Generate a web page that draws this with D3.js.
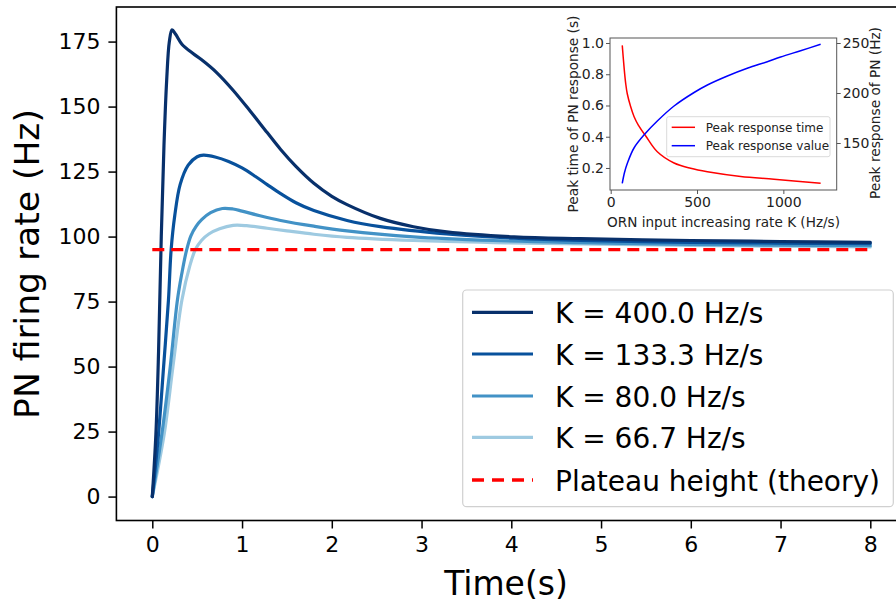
<!DOCTYPE html>
<html>
<head>
<meta charset="utf-8">
<script src="https://cdn.jsdelivr.net/npm/d3@7/dist/d3.min.js"></script>
<style>
  html, body { margin: 0; padding: 0; background: #fff; }
  svg { display: block; font-family: "DejaVu Sans", sans-serif; }
</style>
</head>
<body>
<svg id="chart" width="896" height="604"></svg>
<script>
// ---------------- DATA ----------------
const seriesLabels = ["K = 400.0 Hz/s", "K = 133.3 Hz/s", "K = 80.0 Hz/s", "K = 66.7 Hz/s"];
const seriesColors = ["#08306b", "#08519c", "#4292c6", "#9ecae1"];
// [time (s), PN firing rate (Hz)]
const k400 = [[0,0],[0.04,24],[0.07,56],[0.1,100],[0.13,135],[0.16,160],[0.19,175],[0.22,179.5],[0.26,177.8],
  [0.33,174],[0.45,170.5],[0.55,168],[0.72,163],[0.9,156.3],[1.09,148.3],[1.28,140],[1.43,133.5],[1.6,127],
  [1.8,120.5],[2.0,115.5],[2.17,112.3],[2.54,107],[2.91,103.8],[3.28,101.8],[4.03,99.9],[4.77,99.2],[6,98.5],[7,98.1],[8,97.8]];
const k133 = [[0,0],[0.07,24.4],[0.126,50],[0.18,75.6],[0.21,95],[0.25,108],[0.31,120],[0.4,127.5],[0.5,130.7],
  [0.57,131.3],[0.7,130.6],[0.85,128.9],[1.0,126.4],[1.15,123.1],[1.28,120],[1.43,116.5],[1.6,113],[1.8,110],
  [2.17,106.2],[2.54,103.8],[3.28,101],[4.03,99.4],[4.77,98.5],[6,97.8],[7,97.5],[8,97.3]];
const k80 = [[0,0],[0.108,24.4],[0.2,50],[0.28,75.6],[0.33,86],[0.38,94.5],[0.43,100.3],[0.49,104],[0.55,106.5],
  [0.65,109.2],[0.78,110.8],[0.9,110.6],[1.0,109.8],[1.2,108],[1.43,106.2],[1.8,104],[2.17,102.2],[2.91,99.9],
  [3.8,98.5],[4.77,97.7],[6,97],[7,96.7],[8,96.5]];
const k667 = [[0,0],[0.134,24.4],[0.23,50],[0.33,75.6],[0.42,89],[0.48,95],[0.55,98.6],[0.63,101],[0.75,103],
  [0.9,104.3],[1.05,104.2],[1.28,103.2],[1.5,102.2],[1.8,100.9],[2.17,99.7],[2.91,98.5],[3.8,97.7],[4.77,97.2],[6,96.6],[7,96.3],[8,96]];
const plateau = [[0,95],[8,95]];
const plateauLabel = "Plateau height (theory)";
const xTicks = [0,1,2,3,4,5,6,7,8];
const yTicks = [0,25,50,75,100,125,150,175];

// inset: [K (Hz/s), value]
const peakTime = [[67,0.985],[77,0.85],[87,0.74],[96,0.675],[115,0.595],[135,0.53],[160,0.475],[203,0.405],
  [270,0.304],[367,0.232],[463,0.198],[560,0.176],[753,0.146],[946,0.128],[1216,0.102]];
const peakValue = [[67,109.7],[80,120.5],[96.5,129.7],[135,145],[203,160],[270,172],[367,187],[483,200.5],
  [560,208],[676,217],[791,224.7],[907,231.3],[984,236],[1100,242.3],[1216,248.7]];
const insetXTicks = [0,500,1000];
const insetYTicks = [0.2,0.4,0.6,0.8,1.0];
const insetY2Ticks = [150,200,250];
const insetLegend = ["Peak response time", "Peak response value"];

// ---------------- DRAW ----------------
const svg = d3.select("#chart");
const F = "DejaVu Sans";

const x = d3.scaleLinear().domain([-0.4, 8.4]).range([116.4, 906.2]);
const y = d3.scaleLinear().domain([-9.2, 188.3]).range([520.5, 7]);

const main = svg.append("g");
const line = d3.line().x(d => x(d[0])).y(d => y(d[1])).curve(d3.curveCatmullRom.alpha(0.5));
const series = [k400, k133, k80, k667];
[3,2,1,0].forEach(i => {
  main.append("path").datum(series[i]).attr("d", line)
    .attr("fill", "none").attr("stroke", seriesColors[i]).attr("stroke-width", 3.2)
    .attr("stroke-linejoin", "round").attr("stroke-linecap", "round");
});
main.append("path").datum(plateau).attr("d", d3.line().x(d => x(d[0])).y(d => y(d[1])))
  .attr("fill", "none").attr("stroke", "#ff0000").attr("stroke-width", 3.4)
  .attr("stroke-dasharray", "12,7");

main.append("rect").attr("x", x.range()[0]).attr("y", y.range()[1])
  .attr("width", x.range()[1] - x.range()[0]).attr("height", y.range()[0] - y.range()[1])
  .attr("fill", "none").attr("stroke", "#000").attr("stroke-width", 1.6);

const xAxis = d3.axisBottom(x).tickValues(xTicks).tickSize(8).tickPadding(8).tickFormat(d3.format("d"));
const gx = main.append("g").attr("transform", `translate(0,${y.range()[0]})`).call(xAxis);
gx.select(".domain").remove();
gx.selectAll("line").attr("stroke", "#000").attr("stroke-width", 1.5);
gx.selectAll("text").attr("font-family", F).attr("font-size", 22).attr("fill", "#000");

const yAxis = d3.axisLeft(y).tickValues(yTicks).tickSize(8).tickPadding(8).tickFormat(d3.format("d"));
const gy = main.append("g").attr("transform", `translate(${x.range()[0]},0)`).call(yAxis);
gy.select(".domain").remove();
gy.selectAll("line").attr("stroke", "#000").attr("stroke-width", 1.5);
gy.selectAll("text").attr("font-family", F).attr("font-size", 22).attr("fill", "#000");

main.append("text").attr("x", 506).attr("y", 595).attr("text-anchor", "middle")
  .attr("font-family", F).attr("font-size", 33).text("Time(s)");
main.append("text").attr("transform", "translate(39,264) rotate(-90)").attr("text-anchor", "middle")
  .attr("font-family", F).attr("font-size", 34.5).text("PN firing rate (Hz)");

const lg = main.append("g");
lg.append("rect").attr("x", 462.7).attr("y", 290).attr("width", 430.6).attr("height", 216.7)
  .attr("rx", 4).attr("fill", "#fff").attr("fill-opacity", 0.8).attr("stroke", "#d0d0d0").attr("stroke-width", 1.2);
const legRows = [312.3, 354, 396, 437.3, 480];
seriesLabels.forEach((lab, i) => {
  lg.append("line").attr("x1", 472).attr("x2", 533).attr("y1", legRows[i]).attr("y2", legRows[i])
    .attr("stroke", seriesColors[i]).attr("stroke-width", 3.2);
  lg.append("text").attr("x", 555).attr("y", legRows[i] + 11).attr("font-family", F).attr("font-size", 28).text(lab);
});
lg.append("line").attr("x1", 472).attr("x2", 533).attr("y1", legRows[4]).attr("y2", legRows[4])
  .attr("stroke", "#ff0000").attr("stroke-width", 3.4).attr("stroke-dasharray", "12,8");
lg.append("text").attr("x", 555).attr("y", legRows[4] + 11).attr("font-family", F).attr("font-size", 28).text(plateauLabel);

// ---------------- INSET ----------------
const ix = d3.scaleLinear().domain([-4, 1309]).range([610, 836.7]);
const iy = d3.scaleLinear().domain([0.059, 1.032]).range([190, 38]);
const iy2 = d3.scaleLinear().domain([103, 255]).range([190, 38]);
const inset = svg.append("g");
inset.append("rect").attr("x", 610).attr("y", 38).attr("width", 226.7).attr("height", 152).attr("fill", "#fff");

const icurve = d3.curveCatmullRom.alpha(0.5);
inset.append("path").datum(peakTime)
  .attr("d", d3.line().x(d => ix(d[0])).y(d => iy(d[1])).curve(icurve))
  .attr("fill", "none").attr("stroke", "#ff0000").attr("stroke-width", 1.5);
inset.append("path").datum(peakValue)
  .attr("d", d3.line().x(d => ix(d[0])).y(d => iy2(d[1])).curve(icurve))
  .attr("fill", "none").attr("stroke", "#0000ff").attr("stroke-width", 1.5);

inset.append("rect").attr("x", 610).attr("y", 38).attr("width", 226.7).attr("height", 152)
  .attr("fill", "none").attr("stroke", "#555").attr("stroke-width", 1);

const igx = inset.append("g").attr("transform", "translate(0,190)")
  .call(d3.axisBottom(ix).tickValues(insetXTicks).tickSize(4).tickPadding(3).tickFormat(d3.format("d")));
const igy = inset.append("g").attr("transform", "translate(610,0)")
  .call(d3.axisLeft(iy).tickValues(insetYTicks).tickSize(4).tickPadding(2).tickFormat(d3.format(".1f")));
const igy2 = inset.append("g").attr("transform", "translate(836.7,0)")
  .call(d3.axisRight(iy2).tickValues(insetY2Ticks).tickSize(4).tickPadding(2).tickFormat(d3.format("d")));
[igx, igy, igy2].forEach(g => {
  g.select(".domain").remove();
  g.selectAll("line").attr("stroke", "#555").attr("stroke-width", 1);
  g.selectAll("text").attr("font-family", F).attr("font-size", 14).attr("fill", "#222");
});

inset.append("text").attr("x", 723.5).attr("y", 227).attr("text-anchor", "middle")
  .attr("font-family", F).attr("font-size", 13.6).attr("fill", "#222").text("ORN input increasing rate K (Hz/s)");
inset.append("text").attr("transform", "translate(578,114) rotate(-90)").attr("text-anchor", "middle")
  .attr("font-family", F).attr("font-size", 13.7).attr("fill", "#222").text("Peak time of PN response (s)");
inset.append("text").attr("transform", "translate(880,113) rotate(-90)").attr("text-anchor", "middle")
  .attr("font-family", F).attr("font-size", 13.7).attr("fill", "#222").text("Peak response of PN (Hz)");

const il = inset.append("g");
il.append("rect").attr("x", 666.7).attr("y", 116.7).attr("width", 163.3).attr("height", 40)
  .attr("rx", 2).attr("fill", "#fff").attr("fill-opacity", 0.8).attr("stroke", "#d0d0d0").attr("stroke-width", 0.8);
const ilRows = [127.3, 145.7];
const ilColors = ["#ff0000", "#0000ff"];
insetLegend.forEach((lab, i) => {
  il.append("line").attr("x1", 671.7).attr("x2", 695).attr("y1", ilRows[i]).attr("y2", ilRows[i])
    .attr("stroke", ilColors[i]).attr("stroke-width", 1.5);
  il.append("text").attr("x", 705.7).attr("y", ilRows[i] + 4.3).attr("font-family", F).attr("font-size", 12)
    .attr("fill", "#222").text(lab);
});
</script>
</body>
</html>
